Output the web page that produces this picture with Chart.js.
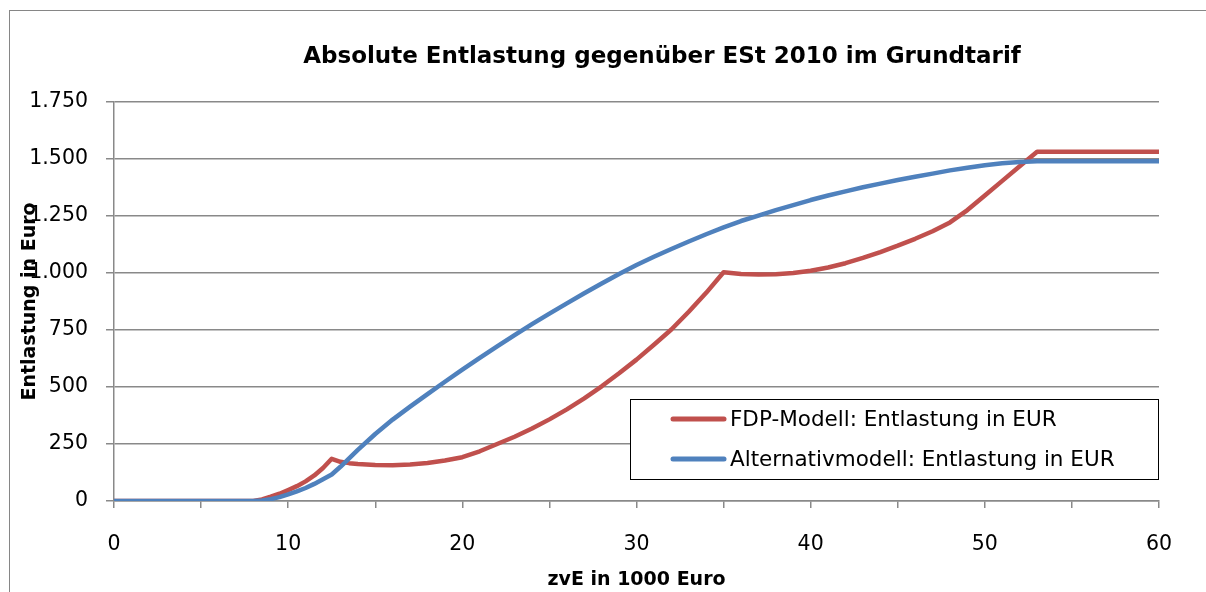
<!DOCTYPE html>
<html>
<head>
<meta charset="utf-8">
<script src="https://cdn.jsdelivr.net/npm/chart.js@4.4.1/dist/chart.umd.min.js"></script>
<style>
html,body{margin:0;padding:0;background:#fff;overflow:hidden}
canvas{display:block}
</style>
</head>
<body>
<canvas id="c" width="1206" height="592"></canvas>
<script>
const chartTitle = 'Absolute Entlastung gegenüber ESt 2010 im Grundtarif';
const xAxisTitle = 'zvE in 1000 Euro';
const yAxisTitle = 'Entlastung in Euro';
const seriesLabels = ['FDP-Modell: Entlastung in EUR', 'Alternativmodell: Entlastung in EUR'];

// zvE in 1000 Euro
const zvE = [0, 8, 8.5, 9, 9.5, 10, 10.5, 11, 11.5, 12, 12.5, 13, 13.5,
  14, 15, 16, 17, 18, 19, 20, 21, 22, 23, 24, 25, 26, 27, 28, 29, 30,
  31, 32, 33, 34, 35, 36, 37, 38, 39, 40, 41, 42, 43, 44, 45, 46, 47,
  48, 49, 50, 51, 52, 53, 54, 55, 56, 57, 58, 59, 60];

// FDP-Modell: Entlastung in EUR
const fdpEntlastung = [0, 0, 7, 19, 32, 48, 65, 86, 112, 145, 185, 172, 166,
  162, 158, 157, 160, 167, 178, 192, 218, 250, 282, 318, 358, 402, 450, 503, 560, 620,
  685, 752, 830, 913, 1003, 996, 993, 994, 1000, 1010, 1024, 1043, 1066, 1092, 1120, 1150, 1183,
  1222, 1276, 1340, 1404, 1468, 1532, 1532, 1532, 1532, 1532, 1532, 1532, 1532];

// Alternativmodell: Entlastung in EUR
const altEntlastung = [0, 0, 2, 8, 17, 29, 42, 57, 75, 95, 116, 150, 187,
  224, 294, 357, 414, 469, 523, 576, 628, 678, 728, 776, 822, 867, 911, 954, 996, 1035,
  1071, 1105, 1138, 1170, 1200, 1228, 1252, 1276, 1298, 1320, 1340, 1358, 1376, 1392, 1408, 1422, 1436,
  1450, 1462, 1473, 1481, 1487, 1490, 1490, 1490, 1490, 1490, 1490, 1490, 1490];

const seriesColors = ['#C0504D', '#4F81BD'];
const gridColor = '#898989';
const FONT = '"DejaVu Sans", sans-serif';

function fmtDE(v) {
  return String(v).replace(/\B(?=(\d{3})+(?!\d))/g, '.');
}

const decor = {
  id: 'decor',
  beforeDraw(chart) {
    const ctx = chart.ctx;
    ctx.save();
    ctx.fillStyle = '#fff';
    ctx.fillRect(0, 0, chart.width, chart.height);
    ctx.strokeStyle = '#868686';
    ctx.lineWidth = 1;
    ctx.strokeRect(9.5, 10.5, 1500, 900);
    ctx.fillStyle = '#000';
    ctx.font = 'bold 23px ' + FONT;
    ctx.textAlign = 'center';
    ctx.textBaseline = 'alphabetic';
    ctx.fillText(chartTitle, 662, 63);
    ctx.restore();
  },
  afterDraw(chart) {
    const ctx = chart.ctx;
    ctx.save();
    const bx = 630.5, by = 399.5, bw = 528, bh = 80;
    ctx.fillStyle = '#fff';
    ctx.fillRect(bx, by, bw, bh);
    ctx.strokeStyle = '#000';
    ctx.lineWidth = 1;
    ctx.strokeRect(bx, by, bw, bh);
    ctx.font = '21.5px ' + FONT;
    ctx.textAlign = 'left';
    ctx.textBaseline = 'middle';
    chart.data.datasets.forEach((ds, i) => {
      const y = 419 + i * 40;
      ctx.strokeStyle = ds.borderColor;
      ctx.lineWidth = 5;
      ctx.lineCap = 'round';
      ctx.beginPath();
      ctx.moveTo(673, y);
      ctx.lineTo(724, y);
      ctx.stroke();
      ctx.fillStyle = '#000';
      ctx.fillText(ds.label, 730, y + 1);
    });
    ctx.restore();
  }
};

new Chart(document.getElementById('c'), {
  type: 'line',
  data: {
    datasets: [
      {
        label: seriesLabels[0],
        data: zvE.map((x, i) => ({x: x, y: fdpEntlastung[i]})),
        borderColor: seriesColors[0],
        backgroundColor: seriesColors[0],
        borderWidth: 4.5,
        pointRadius: 0,
        tension: 0,
        borderJoinStyle: 'round',
        borderCapStyle: 'round',
        order: 1
      },
      {
        label: seriesLabels[1],
        data: zvE.map((x, i) => ({x: x, y: altEntlastung[i]})),
        borderColor: seriesColors[1],
        backgroundColor: seriesColors[1],
        borderWidth: 4.5,
        pointRadius: 0,
        tension: 0,
        borderJoinStyle: 'round',
        borderCapStyle: 'round',
        order: 0
      }
    ]
  },
  options: {
    responsive: false,
    animation: false,
    devicePixelRatio: 1,
    layout: { padding: { left: 0, top: 102, right: 47, bottom: 0 } },
    plugins: {
      legend: { display: false },
      title: { display: false },
      tooltip: { enabled: false }
    },
    scales: {
      x: {
        type: 'linear',
        min: 0, max: 60,
        afterFit(scale) { scale.height = 91; },
        ticks: {
          stepSize: 5,
          autoSkip: false,
          maxRotation: 0,
          padding: 24,
          color: '#000',
          font: { family: FONT, size: 20.5 },
          callback: (v) => (v % 10 === 0 ? String(v) : '')
        },
        grid: {
          drawOnChartArea: false,
          drawTicks: true,
          tickLength: 7,
          color: gridColor,
          lineWidth: 1.5
        },
        border: { display: true, color: gridColor, width: 1.5 },
        title: {
          display: true,
          text: xAxisTitle,
          color: '#000',
          font: { family: FONT, size: 19, weight: 'bold' },
          padding: { top: 0, bottom: 1 }
        }
      },
      y: {
        type: 'linear',
        min: 0, max: 1750,
        afterFit(scale) { scale.width = 114; },
        ticks: {
          stepSize: 250,
          padding: 18,
          color: '#000',
          font: { family: FONT, size: 20.5 },
          callback: (v) => fmtDE(v)
        },
        grid: {
          drawOnChartArea: true,
          drawTicks: true,
          tickLength: 8,
          color: gridColor,
          lineWidth: 1.5
        },
        border: { display: true, color: gridColor, width: 1.5 },
        title: {
          display: true,
          text: yAxisTitle,
          color: '#000',
          font: { family: FONT, size: 19, weight: 'bold' },
          padding: { top: 19, bottom: 0 }
        }
      }
    }
  },
  plugins: [decor]
});
</script>
</body>
</html>
